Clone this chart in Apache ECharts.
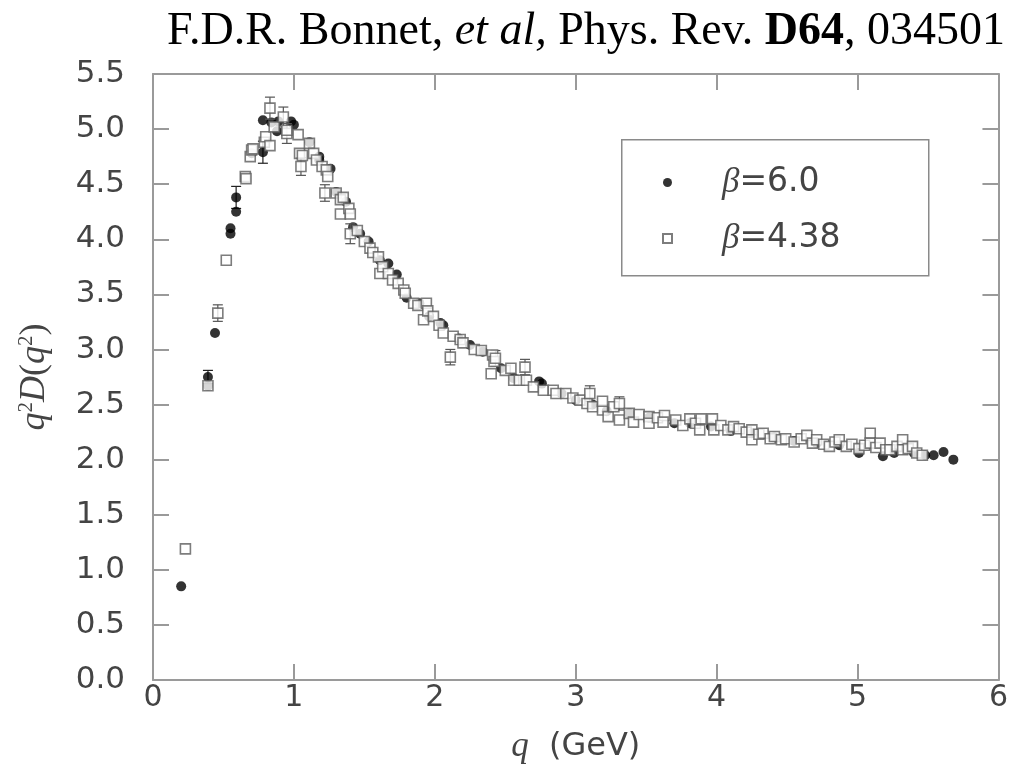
<!DOCTYPE html>
<html>
<head>
<meta charset="utf-8">
<script src="https://cdn.jsdelivr.net/npm/echarts@6/dist/echarts.min.js"></script>
<style>html,body{margin:0;padding:0;background:#fff;}#chart{width:1011px;height:776px;}</style>
</head>
<body>
<div id="chart"></div>
<script>
// beta = 6.0 : [q (GeV), q^2 D(q^2), error (0 = hidden inside marker)]
const beta60 = [
  [0.20,0.85,0],[0.39,2.75,0.06],[0.39,2.67,0],[0.44,3.15,0],[0.55,4.05,0],[0.55,4.10,0],[0.59,4.25,0],[0.59,4.38,0.1],
  [0.70,4.78,0],[0.78,4.79,0.1],[0.78,5.08,0],[0.84,5.06,0],[0.88,4.98,0],[0.89,5.07,0],[0.98,5.07,0],[1.00,5.04,0],
  [1.11,4.88,0],[1.18,4.75,0],[1.18,4.72,0],[1.26,4.64,0],[1.30,4.43,0],[1.37,4.34,0],[1.42,4.11,0],[1.47,4.05,0],
  [1.53,3.98,0],[1.61,3.81,0],[1.67,3.78,0],[1.73,3.68,0],[1.80,3.47,0],[1.89,3.42,0],[1.96,3.30,0],[2.04,3.24,0],
  [2.06,3.22,0],[2.17,3.10,0],[2.25,3.04,0],[2.34,2.98,0],[2.47,2.83,0],[2.56,2.74,0],[2.74,2.71,0],[2.76,2.69,0],
  [2.90,2.60,0],[3.00,2.54,0],[3.12,2.50,0],[3.22,2.44,0],[3.38,2.42,0],[3.52,2.38,0],[3.70,2.33,0],[3.81,2.33,0],
  [3.96,2.30,0],[4.10,2.26,0],[4.25,2.24,0],[4.41,2.20,0],[4.55,2.17,0],[4.71,2.15,0],[4.87,2.13,0],[5.01,2.06,0],
  [5.18,2.03,0],[5.26,2.06,0],[5.40,2.06,0],[5.48,2.04,0],[5.54,2.04,0],[5.61,2.07,0],[5.68,2.00,0]
];
// beta = 4.38 : [q (GeV), q^2 D(q^2), error (0 = hidden inside marker)]
const beta438 = [
  [0.23,1.19,0],[0.39,2.67,0],[0.46,3.33,0.075],[0.52,3.81,0],[0.655,4.57,0],[0.66,4.55,0],[0.69,4.75,0],[0.70,4.81,0],
  [0.71,4.82,0],[0.79,4.88,0],[0.80,4.93,0],[0.83,5.19,0.1],[0.83,4.85,0],[0.86,5.02,0],[0.925,5.11,0.09],[0.95,4.96,0.09],
  [0.95,4.99,0],[1.03,4.95,0],[1.04,4.78,0],[1.05,4.66,0.08],[1.06,4.76,0],[1.11,4.87,0],[1.14,4.78,0],[1.16,4.72,0],
  [1.20,4.66,0],[1.23,4.63,0],[1.24,4.57,0],[1.22,4.42,0.075],[1.30,4.42,0],[1.33,4.36,0],[1.33,4.23,0],[1.35,4.38,0],
  [1.39,4.28,0],[1.40,4.23,0],[1.40,4.05,0.09],[1.45,4.08,0],[1.50,3.98,0],[1.54,3.92,0],[1.56,3.88,0],[1.60,3.84,0],
  [1.61,3.69,0],[1.63,3.75,0],[1.67,3.69,0],[1.70,3.63,0],[1.74,3.60,0],[1.78,3.54,0],[1.79,3.51,0],[1.85,3.42,0],
  [1.88,3.40,0],[1.92,3.27,0],[1.94,3.42,0],[1.95,3.35,0],[1.99,3.30,0],[2.03,3.22,0],[2.06,3.15,0],[2.11,2.93,0.07],
  [2.13,3.12,0],[2.18,3.09,0],[2.20,3.06,0],[2.28,3.00,0],[2.33,2.99,0],[2.40,2.78,0],[2.41,2.95,0],[2.42,2.89,0],
  [2.43,2.92,0.07],[2.50,2.81,0],[2.54,2.83,0],[2.56,2.72,0],[2.60,2.72,0],[2.64,2.84,0.07],[2.65,2.72,0],[2.70,2.66,0],
  [2.77,2.63,0],[2.84,2.63,0],[2.86,2.60,0],[2.93,2.60,0],[2.98,2.56,0],[3.03,2.54,0],[3.08,2.51,0],[3.10,2.60,0.07],
  [3.12,2.48,0],[3.19,2.45,0],[3.19,2.53,0],[3.23,2.39,0],[3.27,2.48,0],[3.31,2.51,0.06],[3.31,2.36,0],[3.38,2.42,0],
  [3.41,2.34,0],[3.45,2.41,0],[3.52,2.39,0],[3.52,2.33,0],[3.58,2.38,0],[3.63,2.40,0],[3.62,2.34,0],[3.71,2.36,0],
  [3.76,2.31,0],[3.81,2.37,0],[3.85,2.33,0],[3.89,2.37,0],[3.88,2.27,0],[3.97,2.37,0],[3.98,2.27,0],[4.03,2.31,0],
  [4.08,2.27,0],[4.12,2.30,0],[4.16,2.28,0],[4.21,2.25,0],[4.25,2.27,0],[4.25,2.18,0],[4.30,2.23,0],[4.33,2.24,0],
  [4.38,2.19,0],[4.41,2.21,0],[4.46,2.18,0],[4.49,2.19,0],[4.55,2.16,0],[4.60,2.19,0],[4.64,2.22,0],[4.68,2.15,0],
  [4.71,2.18,0],[4.76,2.14,0],[4.80,2.12,0],[4.84,2.16,0],[4.87,2.18,0],[4.92,2.12,0],[4.96,2.14,0],[5.01,2.10,0],
  [5.05,2.13,0],[5.09,2.24,0],[5.09,2.15,0],[5.13,2.11,0],[5.16,2.15,0],[5.20,2.09,0],[5.23,2.09,0],[5.28,2.12,0],
  [5.32,2.18,0],[5.32,2.09,0],[5.36,2.10,0],[5.39,2.12,0],[5.42,2.06,0],[5.46,2.04,0]
];
const xTicks = [0,1,2,3,4,5,6];
const yTicks = [0,0.5,1,1.5,2,2.5,3,3.5,4,4.5,5,5.5];
const seriesNames = ['β=6.0','β=4.38'];
const titleParts = ['F.D.R. Bonnet, ', 'et al,', ' Phys. Rev. ', 'D64', ', 034501'];

const chart = echarts.init(document.getElementById('chart'), null, {renderer:'canvas'});
const axisGrey = '#9a9a9a';
const labelFont = "'DejaVu Sans', sans-serif";
const serif = "'Liberation Serif', serif";
const txtCol = '#444';

function errRender(color){
  return function(params, api){
    const e = api.value(2);
    if (!(e > 0)) return null;
    const q = api.value(0), v = api.value(1);
    const top = api.coord([q, v + e]);
    const bot = api.coord([q, v - e]);
    const cap = 5;
    const st = {stroke: color, lineWidth: 1.2};
    return {type:'group', children:[
      {type:'line', shape:{x1:top[0],y1:top[1],x2:bot[0],y2:bot[1]}, style:st},
      {type:'line', shape:{x1:top[0]-cap,y1:top[1],x2:top[0]+cap,y2:top[1]}, style:st},
      {type:'line', shape:{x1:bot[0]-cap,y1:bot[1],x2:bot[0]+cap,y2:bot[1]}, style:st}
    ]};
  };
}

function frameAxis(extra){
  return Object.assign({
    type:'value',
    axisLine:{show:true, onZero:false, lineStyle:{color:axisGrey, width:2}},
    axisTick:{show:true, inside:true, length:16, lineStyle:{color:axisGrey, width:2}},
    splitLine:{show:false}
  }, extra);
}

const option = {
  backgroundColor:'#fff',
  animation:false,
  title:{
    text: '{r|'+titleParts[0]+'}{i|'+titleParts[1]+'}{r|'+titleParts[2]+'}{b|'+titleParts[3]+'}{r|'+titleParts[4]+'}',
    left: 581, top: 4, textAlign:'center',
    textStyle:{ fontWeight:'normal', rich:{
      r:{fontFamily:serif, fontSize:46, fontWeight:'normal', color:'#000'},
      i:{fontFamily:serif, fontSize:46, fontWeight:'normal', fontStyle:'italic', color:'#000'},
      b:{fontFamily:serif, fontSize:46, fontWeight:'bold', color:'#000'}
    }}
  },
  grid:{left:153, right:12, top:74, bottom:96, containLabel:false},
  legend:{
    show:true, orient:'vertical', left:662, top:165, padding:0, itemGap:21,
    itemWidth:9, itemHeight:9, data:seriesNames,
    formatter: function(n){ return '{i|β}{n|' + n.slice(1) + '}'; },
    textStyle:{ padding:[0,0,0,45], lineHeight:32, rich:{
      i:{fontFamily:serif, fontStyle:'italic', fontSize:35, color:txtCol},
      n:{fontFamily:labelFont, fontSize:33, color:txtCol}
    }}
  },
  xAxis:[
    frameAxis({min:0, max:6, interval:1, position:'bottom',
      axisLabel:{show:true, margin:3, fontFamily:labelFont, fontSize:30, color:txtCol,
        formatter: v => xTicks.includes(v) ? String(v) : ''},
      name:'{i|q}{n|  (GeV)}', nameLocation:'middle', nameGap:49,
      nameTextStyle:{ rich:{
        i:{fontFamily:serif, fontStyle:'italic', fontSize:35, color:txtCol},
        n:{fontFamily:labelFont, fontSize:32, color:txtCol}
      }}}),
    frameAxis({min:0, max:6, interval:1, position:'top', axisLabel:{show:false}})
  ],
  yAxis:[
    frameAxis({min:0, max:5.5, interval:0.5, position:'left',
      axisLabel:{show:true, margin:28, fontFamily:labelFont, fontSize:31, color:txtCol,
        formatter: v => yTicks.some(t => Math.abs(t - v) < 1e-9) ? v.toFixed(1) : ''},
      name:'{i|q}{s|2}{i|D}{n|(}{i|q}{s|2}{n|)}', nameLocation:'middle', nameGap:100,
      nameTextStyle:{ rich:{
        i:{fontFamily:serif, fontStyle:'italic', fontSize:36, color:txtCol},
        s:{fontFamily:serif, fontSize:21, color:txtCol, padding:[0,0,16,0]},
        n:{fontFamily:serif, fontSize:36, color:txtCol}
      }}}),
    frameAxis({min:0, max:5.5, interval:0.5, position:'right', axisLabel:{show:false}})
  ],
  graphic:[
    {type:'rect', left:621, top:139, shape:{width:307, height:136}, z:5,
     style:{fill:'rgba(0,0,0,0)', stroke:'#8a8a8a', lineWidth:1.5}}
  ],
  series:[
    {name:seriesNames[0], type:'scatter', data:beta60, dimensions:['q','v','e'], encode:{x:0,y:1},
     symbol:'circle', symbolSize:10, itemStyle:{color:'#000'}, z:2},
    {type:'custom', data:beta60, dimensions:['q','v','e'], encode:{x:0,y:1},
     renderItem:errRender('#222'), z:2, silent:true},
    {name:seriesNames[1], type:'scatter', data:beta438, dimensions:['q','v','e'], encode:{x:0,y:1},
     symbol:'rect', symbolSize:10, itemStyle:{color:'#fff', borderColor:'#5c5c5c', borderWidth:1.6}, z:3},
    {type:'custom', data:beta438, dimensions:['q','v','e'], encode:{x:0,y:1},
     renderItem:errRender('#555'), z:3, silent:true}
  ]
};
chart.setOption(option);
</script>
</body>
</html>
